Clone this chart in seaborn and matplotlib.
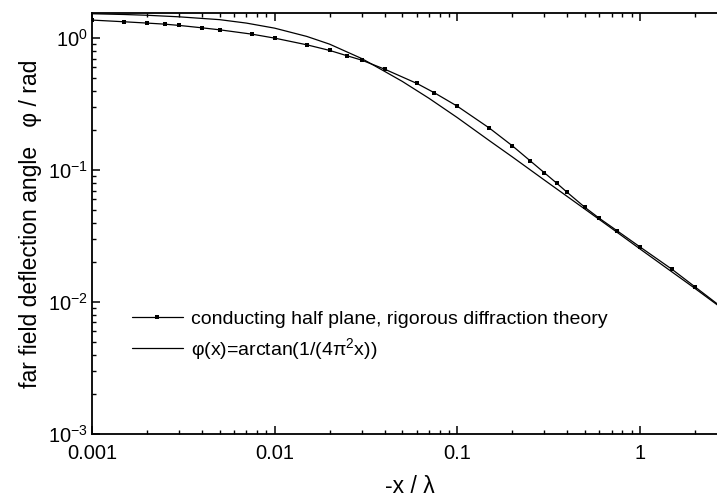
import matplotlib
matplotlib.use("Agg")
import matplotlib.pyplot as plt
import numpy as np
import pandas as pd
import seaborn as sns

# rigorous diffraction theory
x_rig = [0.001, 0.0015, 0.002, 0.0025, 0.003, 0.004, 0.005, 0.0075, 0.01, 0.015,
         0.02, 0.025, 0.03, 0.04, 0.06, 0.075, 0.1, 0.15, 0.2, 0.25,
         0.3, 0.35, 0.4, 0.5, 0.6, 0.75, 1.0, 1.5, 2.0, 3.0]
phi_rig = [1.37, 1.33, 1.30, 1.276, 1.248, 1.197, 1.156, 1.072, 1.0, 0.89,
           0.807, 0.734, 0.681, 0.582, 0.454, 0.385, 0.305, 0.208, 0.153, 0.118,
           0.0954, 0.0797, 0.0678, 0.0522, 0.0431, 0.0347, 0.0262, 0.0177, 0.01306, 0.0085]

# arctan curve
x_atan = [0.001, 0.0015, 0.002, 0.003, 0.005, 0.007, 0.01, 0.015, 0.02, 0.03,
          0.04, 0.05, 0.07, 0.1, 0.15, 0.2, 0.3, 0.5, 0.7, 1.0, 1.5, 2.0, 3.0]
phi_atan = [1.53, 1.51, 1.49, 1.45, 1.38, 1.30, 1.19, 1.03, 0.90, 0.70,
            0.56, 0.47, 0.35, 0.25, 0.167, 0.126, 0.084, 0.0506, 0.0362, 0.0253, 0.0169, 0.0127, 0.0084]

label_rig = "conducting half plane, rigorous diffraction theory"
label_atan = r"φ(x)=arctan(1/(4π$^{2}$x))"

xticks = [0.001, 0.01, 0.1, 1]
xticklabels = ["0.001", "0.01", "0.1", "1"]
yticks = [0.001, 0.01, 0.1, 1]
yticklabels = [r"$10^{-3}$", r"$10^{-2}$", r"$10^{-1}$", r"$10^{0}$"]

sns.set_style("ticks")
plt.rcParams['font.family'] = ['Liberation Sans', 'DejaVu Sans']
plt.rcParams['mathtext.fontset'] = 'custom'
plt.rcParams['mathtext.rm'] = 'Liberation Sans'
plt.rcParams['mathtext.it'] = 'Liberation Sans'
plt.rcParams['mathtext.bf'] = 'Liberation Sans'
plt.rcParams['text.color'] = 'black'
plt.rcParams['axes.labelcolor'] = 'black'
plt.rcParams['axes.edgecolor'] = 'black'
plt.rcParams['xtick.color'] = 'black'
plt.rcParams['ytick.color'] = 'black'

df_rig = pd.DataFrame({'x': x_rig, 'phi': phi_rig})
df_atan = pd.DataFrame({'x': x_atan, 'phi': phi_atan})

fig = plt.figure(figsize=(7.17, 4.97), dpi=100)
ax = fig.add_axes([92/717, 63/497, 635/717, 421/497])

sns.lineplot(data=df_rig, x='x', y='phi', ax=ax, color='black', lw=0.9,
             marker='s', markersize=2.4, markeredgewidth=0, estimator=None, label=label_rig)
sns.lineplot(data=df_atan, x='x', y='phi', ax=ax, color='black', lw=0.9,
             estimator=None, label=label_atan)

ax.set_xscale('log')
ax.set_yscale('log')
ax.set_xlim(0.001, 3)
ax.set_ylim(0.001, 1.55)

ax.set_xticks(xticks)
ax.set_xticklabels(xticklabels)
ax.set_yticks(yticks)
ax.set_yticklabels(yticklabels)
ax.tick_params(which='major', direction='in', length=6, width=1.1, labelsize=14.5,
               top=True, right=True)
ax.tick_params(axis='x', which='major', pad=7)
ax.tick_params(axis='y', which='major', pad=3)
ax.tick_params(which='minor', direction='in', length=3, width=1.0, top=True, right=True)
for s in ax.spines.values():
    s.set_linewidth(1.3)

ax.set_xlabel("-x / λ", fontsize=16.5, labelpad=9)
ax.set_ylabel("far field deflection angle   φ / rad", fontsize=16.5, labelpad=4)

ax.legend(loc='center left', bbox_to_anchor=(132/717, 1 - 336/497),
          bbox_transform=fig.transFigure, frameon=False, fontsize=14,
          handlelength=2.6, handletextpad=0.45, labelspacing=0.4, numpoints=1,
          borderpad=0, borderaxespad=0)

plt.savefig('out.png', dpi=100)
